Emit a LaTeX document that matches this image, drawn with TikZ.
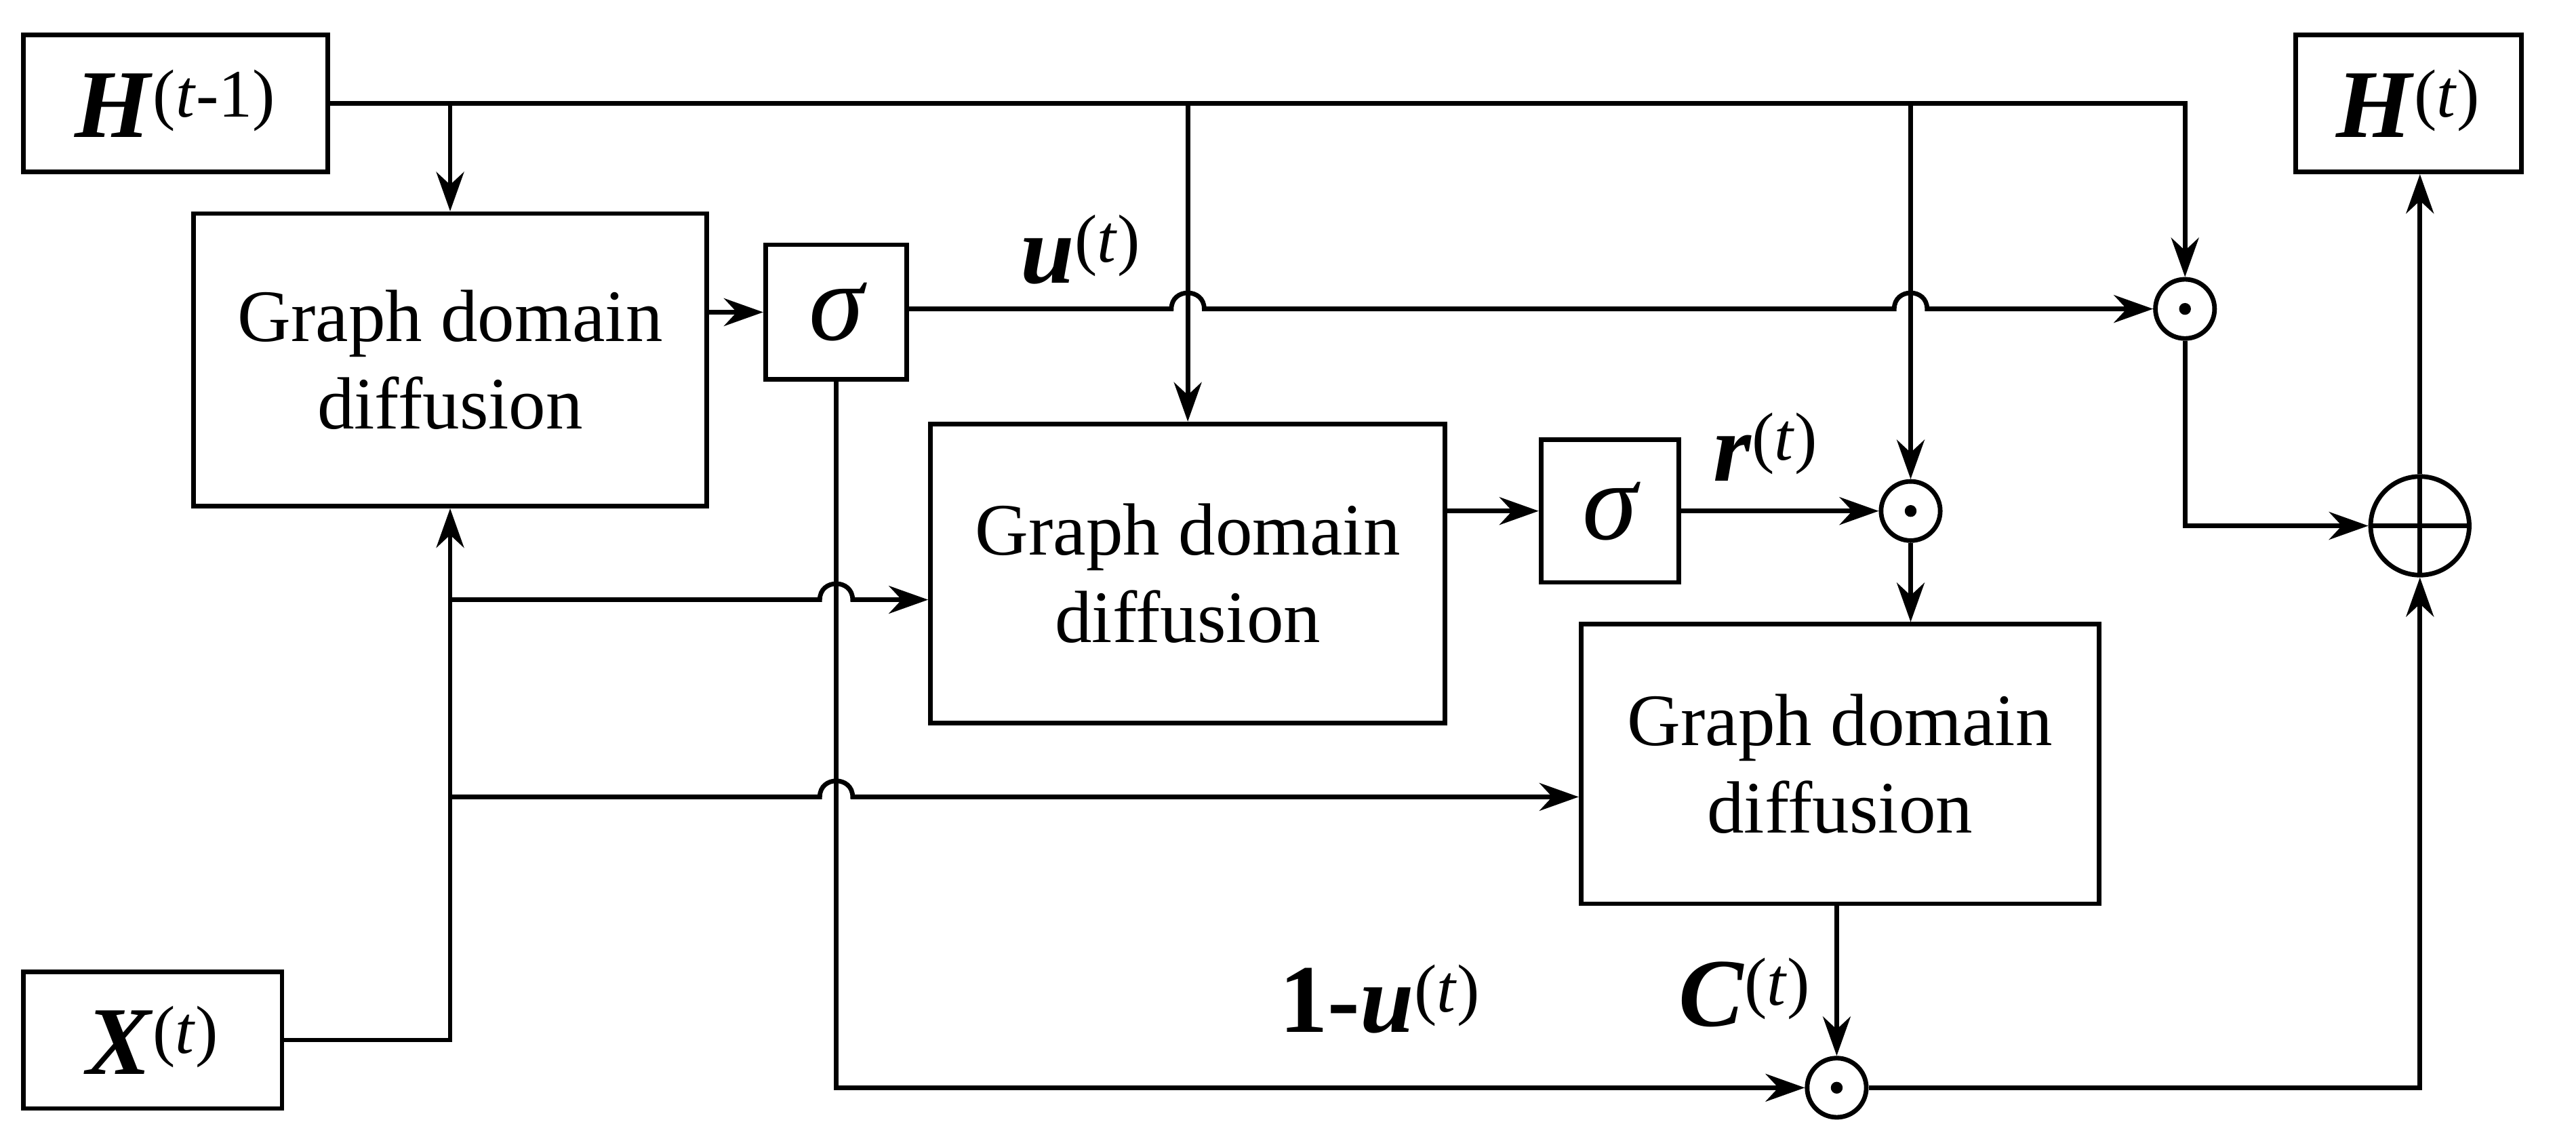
\documentclass[tikz,border=0pt]{standalone}
\usepackage{amsmath}
\usepackage{fontspec}
\setmainfont{Liberation Serif}
\usetikzlibrary{arrows.meta,calc}
\newcommand{\bi}[1]{\textbf{\textit{#1}}}
\newcommand{\spt}[1]{\textsuperscript{\normalfont(#1)}}
\begin{document}
\begin{tikzpicture}[x=0.025cm,y=-0.025cm,
  every path/.style={line width=2pt},
  arr/.style={-{Stealth[length=17pt,width=12pt]}},
  box/.style={draw,line width=2pt,inner sep=0pt,align=center,font=\fontsize{32}{38}\selectfont},
  lab/.style={font=\fontsize{42}{46}\selectfont},
  sig/.style={box,font=\fontsize{48}{52}\selectfont\itshape},
  od/.style={draw,circle,line width=2pt,minimum size=0.9cm,inner sep=0pt,
    path picture={\fill (path picture bounding box.center) circle (0.09cm);}},
  op/.style={draw,circle,line width=2pt,minimum size=1.5cm,inner sep=0pt,
    path picture={\draw[line width=2pt] (path picture bounding box.north)--(path picture bounding box.south)
      (path picture bounding box.west)--(path picture bounding box.east);}}]
\useasboundingbox (0,0) rectangle (1568,693);
\node[box,minimum width=4.63cm,minimum height=2.08cm,font=\fontsize{42}{46}\selectfont] (Hp) at (107,63) {\bi{H}\spt{\textit{t}-1}};
\node[box,minimum width=3.43cm,minimum height=2.08cm,font=\fontsize{42}{46}\selectfont] (Ht) at (1466,63) {\bi{H}\spt{\textit{t}}};
\node[box,minimum width=3.93cm,minimum height=2.08cm,font=\fontsize{42}{46}\selectfont] (X) at (93,633) {\bi{X}\spt{\textit{t}}};
\node[box,minimum width=7.8cm,minimum height=4.45cm] (G1) at (274,219) {Graph domain\\diffusion};
\node[box,minimum width=7.83cm,minimum height=4.55cm] (G2) at (723,349) {Graph domain\\diffusion};
\node[box,minimum width=7.88cm,minimum height=4.25cm] (G3) at (1120,465) {Graph domain\\diffusion};
\node[sig,minimum width=2.15cm,minimum height=2.05cm] (S1) at (509,190) {σ};
\node[sig,minimum width=2.1cm,minimum height=2.17cm] (S2) at (980,311) {σ};
\node[od] (OU) at (1330,188) {};
\node[od] (OR) at (1163,311) {};
\node[od] (OC) at (1118,662) {};
\node[op] (OP) at (1473,320) {};
\node[lab] (lu) at (658,152) {\bi{u}\spt{\textit{t}}};
\node[lab] (lr) at (1075,272) {\bi{r}\spt{\textit{t}}};
\node[lab] (l1u) at (840,608) {\textbf{1-}\bi{u}\spt{\textit{t}}};
\node[lab] (lc) at (1062,604) {\bi{C}\spt{\textit{t}}};
% coordinates
\coordinate (t1) at (274,63);
\coordinate (t2) at (723,63);
\coordinate (t3) at (1163,63);
\coordinate (xc) at (274,633);
\coordinate (x1) at (274,365);
\coordinate (x2) at (274,485);
\coordinate (sc) at (509,662);
% top line
\draw[arr] (Hp.east |- t1) -| (OU.north);
\draw[arr] (t1) -- (G1.north);
\draw[arr] (t2) -- (G2.north);
\draw[arr] (t3) -- (OR.north);
% u line with hops
\draw[arr] (S1.east |- OU) -- (713,188) .. controls (713,175) and (733,175) .. (733,188)
  -- (1153,188) .. controls (1153,175) and (1173,175) .. (1173,188) -- (OU.west);
\draw[arr] (G1.east |- S1.east) -- (S1.west);
% X
\draw[arr] (X.east |- xc) -- (xc) -- (G1.south);
\draw[arr] (x1) -- (499,365) .. controls (499,352) and (519,352) .. (519,365) -- (G2.west |- x1);
\draw[arr] (x2) -- (499,485) .. controls (499,472) and (519,472) .. (519,485) -- (G3.west |- x2);
% sigma1 down
\draw[arr] (S1.south) -- (sc) -- (OC.west);
% G2 -> S2 -> OR
\draw[arr] (G2.east |- S2) -- (S2.west);
\draw[arr] (S2.east) -- (OR.west);
\draw[arr] (OR.south) -- (G3.north -| OR);
\draw[arr] (G3.south -| OC) -- (OC.north);
% outputs
\draw[arr] (OC.east) -| (OP.south);
\draw[arr] (OU.south) |- (OP.west);
\draw[arr] (OP.north) -- (Ht.south -| OP);
\end{tikzpicture}
\end{document}
